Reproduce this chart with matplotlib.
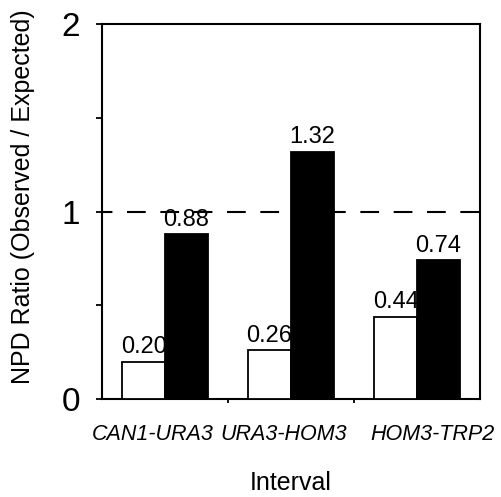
import matplotlib.pyplot as plt
import numpy as np

plt.rcParams['font.family'] = ['Liberation Sans', 'DejaVu Sans']

# Data
intervals = ['CAN1-URA3', 'URA3-HOM3', 'HOM3-TRP2']
white_vals = [0.20, 0.26, 0.44]
black_vals = [0.88, 1.32, 0.74]
expected = 1.0

fig = plt.figure(figsize=(5.01, 4.97), dpi=100)
ax = fig.add_axes([102/501, 1 - 399/497, 378/501, 375/497])

x = np.arange(len(intervals))
width = 0.34

bw = ax.bar(x - width/2, white_vals, width, color='white', edgecolor='black', linewidth=1.3, zorder=3)
bb = ax.bar(x + width/2, black_vals, width, color='black', edgecolor='black', linewidth=1.3, zorder=3)

for bars, vals in [(bw, white_vals), (bb, black_vals)]:
    for bar, val in zip(bars, vals):
        ax.annotate(f'{val:.2f}', (bar.get_x() + bar.get_width()/2, bar.get_height()),
                    xytext=(0, 6), textcoords='offset points',
                    ha='center', va='baseline', fontsize=17, zorder=4)

# expected ratio reference line
ax.axhline(expected, color='black', linestyle=(4, (9, 7)), linewidth=1.5, zorder=2)

ax.set_xlim(-0.5, 2.5)
ax.set_ylim(0, 2)

# y ticks
ax.set_yticks([0, 1, 2])
ax.set_yticklabels(['0', '1', '2'], fontsize=24)
ax.set_yticks([0.5, 1.5], minor=True)
ax.tick_params(axis='y', which='both', direction='out', length=4, width=1.3, pad=12)

# x ticks: marks at group boundaries, labels near group centres
ax.set_xticks([0.5, 1.5])
ax.set_xticklabels([])
ax.tick_params(axis='x', which='major', direction='out', length=3, width=1.3)
ax.set_xticks([-0.10, 0.94, 2.12], minor=True)
ax.set_xticklabels(intervals, minor=True, fontsize=15.5, style='italic')
ax.tick_params(axis='x', which='minor', length=0, pad=18)

for s in ax.spines.values():
    s.set_linewidth(1.5)

ax.set_xlabel('Interval', fontsize=18, labelpad=19)
ax.set_ylabel('NPD Ratio (Observed / Expected)', fontsize=18)
ax.yaxis.set_label_coords(-0.177, 0.54)

fig.savefig('out.png', dpi=100)
